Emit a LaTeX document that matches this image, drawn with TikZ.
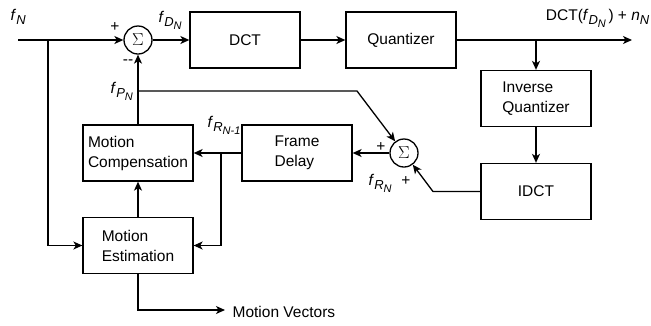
\documentclass[tikz,border=0pt]{standalone}
\usepackage{fontspec}
\setmainfont{Liberation Sans}
\usetikzlibrary{arrows.meta}
\newcommand\lsa[1]{\raisebox{-4pt}{\fontsize{13}{13}\selectfont\itshape #1}}
\newcommand\lsb[1]{\raisebox{-3.5pt}{\fontsize{11}{11}\selectfont\itshape #1}}
\newcommand\ff{\textit{f}}
\begin{document}
\begin{tikzpicture}[x=1pt,y=-1pt, line width=1.3pt,
  >={Stealth[length=9pt,width=8pt,inset=2.5pt]},
  box/.style={draw, minimum width=110pt, minimum height=56pt, inner sep=0pt, align=left,
    font=\fontsize{15.5}{20}\selectfont},
  sumnode/.style={draw, circle, minimum size=28pt, inner sep=0pt, font=\fontsize{18}{18}\selectfont},
  lab/.style={font=\fontsize{15.5}{18}\selectfont, inner sep=0pt}]
\useasboundingbox (0,0) rectangle (651,325);
\node[sumnode] (s1) at (138,40) {$\Sigma$};
\node[box] (dct) at (245,40) {DCT};
\node[box] (q) at (401,40) {Quantizer};
\node[box] (iq) at (536,98.5) {Inverse\\Quantizer};
\node[box] (idct) at (536,191.5) {IDCT};
\node[sumnode] (s2) at (404,153) {$\Sigma$};
\node[box] (fd) at (297,153) {Frame\\Delay};
\node[box] (mc) at (138,153) {Motion\\Compensation};
\node[box] (me) at (138,245.5) {Motion\\Estimation};
\coordinate (in) at (18,40);
\coordinate (j1) at (48,40);
\coordinate (out) at (632,40);
\coordinate (jq) at (536,40);
\coordinate (jp) at (138,91);
\coordinate (kp) at (357,91);
\coordinate (ki) at (433,191.5);
\coordinate (jr) at (221,153);
\coordinate (mv) at (225,310);
\draw[->] (in) -- (s1);
\draw[->] (j1) |- (me.west);
\draw[->] (s1) -- (dct);
\draw[->] (dct) -- (q);
\draw[->] (q) -- (out);
\draw[->] (jq) -- (iq);
\draw[->] (iq) -- (idct);
\draw[->] (idct.west) -- (ki) -- (s2);
\draw[->] (s2) -- (fd);
\draw[->] (fd) -- (mc);
\draw[->] (jr) |- (me.east);
\draw[->] (me) -- (mc);
\draw[->] (mc) -- (s1);
\draw[->] (jp) -- (kp) -- (s2);
\draw[->] (me) |- (mv);
\node[lab, anchor=base west] (lfn) at (10,20) {\ff\lsa{N}};
\node[lab] (p1) at (115,27) {+};
\node[lab] (m1) at (128,62) {-{}-};
\node[lab, anchor=base west] (lfd) at (158,22) {\ff\lsa{D\lsb{N}}};
\node[lab, anchor=base east] (lout) at (650,20) {DCT(\ff\lsa{D\lsb{N}}\,) + \textit{n}\lsa{N}};
\node[lab, anchor=base west] (lfp) at (110,93) {\ff\lsa{P\lsb{N}}};
\node[lab, anchor=base west] (lfr1) at (207,127) {\ff\lsa{R\lsb{N-1}}};
\node[lab] (p2) at (381,147) {+};
\node[lab, anchor=base west] (lfr) at (368,185) {\ff\lsa{R\lsb{N}}};
\node[lab] (p3) at (406,181) {+};
\node[lab, anchor=base west] (lmv) at (232,317) {Motion Vectors};
\end{tikzpicture}
\end{document}
